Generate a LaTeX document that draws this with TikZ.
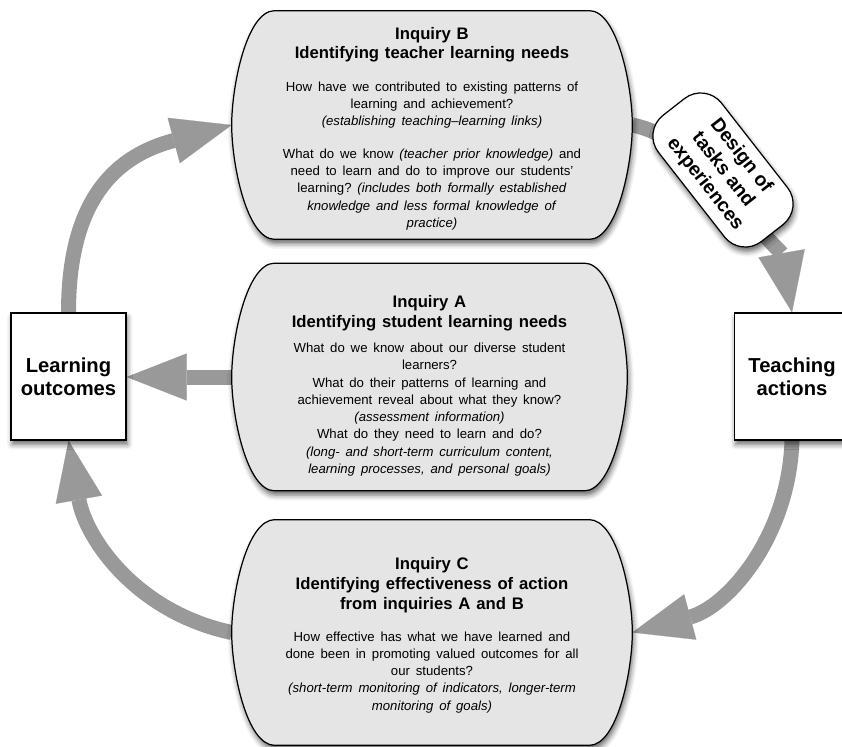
\documentclass[tikz,border=0pt]{standalone}
\usepackage{fontspec}
\setmainfont{Liberation Sans}
\usetikzlibrary{arrows.meta,backgrounds,calc,shadows.blur}
\frenchspacing

\definecolor{boxgray}{gray}{0.9}
\definecolor{flowgray}{gray}{0.6}

\newcommand{\titlefont}{\fontsize{9.5}{11.2}\selectfont\bfseries}
\newcommand{\bodyfont}{\fontsize{7.5}{9.8}\selectfont}
% barrel shaped box drawn round a named node
\newcommand{\bubble}[1]{%
  \path[bubblebox] let \p1=(#1.north west), \p2=(#1.south east),
      \n1={(\y1+\y2)/2}, \n2={0.33*(\y1-\y2)} in
    ({\x1+0.86cm},\y1) -- ({\x2-0.86cm},\y1)
    .. controls ({\x2-0.3cm},\y1) and (\x2,{\y1-\n2}) .. (\x2,\n1)
    .. controls (\x2,{\y2+\n2}) and ({\x2-0.3cm},\y2) .. ({\x2-0.86cm},\y2)
    -- ({\x1+0.86cm},\y2)
    .. controls ({\x1+0.3cm},\y2) and (\x1,{\y2+\n2}) .. (\x1,\n1)
    .. controls (\x1,{\y1-\n2}) and ({\x1+0.3cm},\y1) .. cycle;}

\tikzset{
  softshadow/.style={blur shadow={shadow xshift=0.8pt, shadow yshift=-2.5pt,
      shadow blur radius=3pt, shadow opacity=60}},
  inquiry/.style={inner sep=0pt, text width=7cm, align=center},
  bubblebox/.style={draw, fill=boxgray, line width=0.7pt, softshadow},
  outcome/.style={draw, fill=white, line width=0.7pt, minimum width=2.3cm,
      minimum height=2.54cm, align=center,
      font=\fontsize{11.5}{13}\selectfont\bfseries, softshadow},
  pill/.style={draw, fill=white, line width=0.7pt, rounded corners=15pt,
      minimum width=3.2cm, minimum height=1.6cm, align=center,
      font=\fontsize{11}{13}\selectfont\bfseries, softshadow},
  flowline/.style={draw=flowgray, line width=0.3cm},
  flow/.style={flowline, -{Triangle[length=1.2cm, width=0.94cm, line width=0.1pt]}},
}

\begin{document}
\begin{tikzpicture}[x=0.02cm, y=0.02cm]
\useasboundingbox (0,0) rectangle (842,-747);

% outcome boxes
\node[outcome] (LO) at (68.5,-376.5) {Learning\\outcomes};
\node[outcome] (TA) at (792,-376.5) {Teaching\\actions};

% inquiries
\node[inquiry, minimum width=8cm, minimum height=4.56cm] (B) at (432,-125)
  {{\titlefont\rule{0pt}{11pt}Inquiry B\\Identifying teacher learning needs\par}\vspace{8.5pt}
   {\bodyfont How have we contributed to existing patterns of\\
    learning and achievement?\\
    \textit{(establishing teaching--learning links)}\\[9pt]
    What do we know \textit{(teacher prior knowledge)} and\\
    need to learn and do to improve our students'\\
    learning? \textit{(includes both formally established}\\
    \textit{knowledge and less formal knowledge of}\\
    \textit{practice)}\par}};
\node[inquiry, minimum width=7.9cm, minimum height=4.54cm] (A) at (429.5,-377)
  {{\titlefont\rule{0pt}{17pt}Inquiry A\\Identifying student learning needs\par}\vspace{4.5pt}
   {\bodyfont What do we know about our diverse student\\
    learners?\\
    What do their patterns of learning and\\
    achievement reveal about what they know?\\
    \textit{(assessment information)}\\
    What do they need to learn and do?\\
    \textit{(long- and short-term curriculum content,}\\
    \textit{learning processes, and personal goals)}\par}};
\node[inquiry, minimum width=8cm, minimum height=4.5cm] (C) at (432,-632.5)
  {{\titlefont\rule{0pt}{10pt}Inquiry C\\Identifying effectiveness of action\\from inquiries A and B\par}\vspace{8.5pt}
   {\bodyfont How effective has what we have learned and\\
    done been in promoting valued outcomes for all\\
    our students?\\
    \textit{(short-term monitoring of indicators, longer-term}\\
    \textit{monitoring of goals)}\par}};

% design step
\node[pill, rotate=-52] (D) at (723,-170) {Design of\\tasks and\\experiences};

\begin{scope}[on background layer]
  \draw[flow] (LO.north) to[out=90, in=195, looseness=1.2] (B.west);
  \draw[flowline] (B.east) to[out=-12, in=160] (D.center);
  \draw[flow] (D.center) to[out=-65, in=100] (TA.north);
  \draw[flow] (TA.south) to[out=-92, in=15] (C.east);
  \draw[flow] (C.west) to[out=168, in=-80] (LO.south);
  \draw[flow] (A.west) -- (A.west -| LO.east);
  \bubble{B}
  \bubble{A}
  \bubble{C}
\end{scope}
\end{tikzpicture}
\end{document}
